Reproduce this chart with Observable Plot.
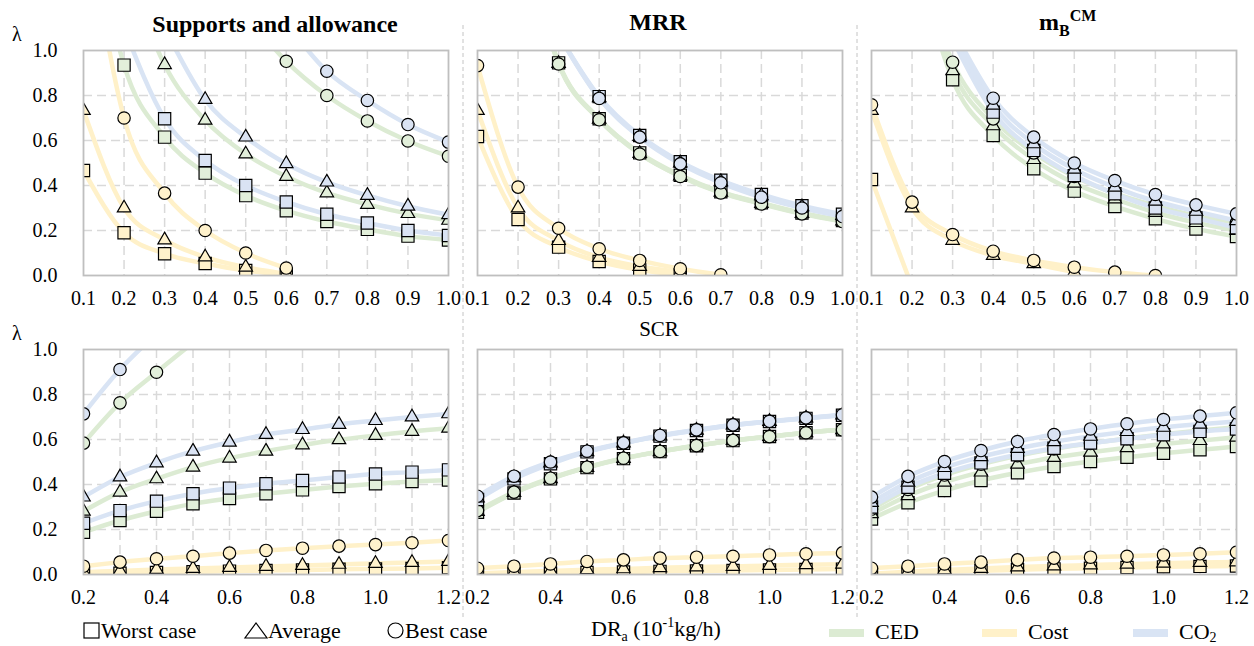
<!DOCTYPE html>
<html><head><meta charset="utf-8">
<script src="https://cdn.jsdelivr.net/npm/d3@7"></script>
<script src="https://cdn.jsdelivr.net/npm/@observablehq/plot@0.6"></script>
<style>
body{margin:0;background:#fff;}
#root{position:relative;width:1254px;height:646px;font-family:"Liberation Serif","DejaVu Serif",serif;color:#000;overflow:hidden;}
#root svg{position:absolute;}
</style></head><body><div id="root"></div>
<script>
// ---------- data ----------
const xTop = [0.1,0.2,0.3,0.4,0.5,0.6,0.7,0.8,0.9,1.0];
const xBottom = [0.2,0.3,0.4,0.5,0.6,0.7,0.8,0.9,1.0,1.1,1.2];
const xTopLabels = [0.1,0.2,0.3,0.4,0.5,0.6,0.7,0.8,0.9,1.0];
const xBottomLabels = [0.2,0.4,0.6,0.8,1.0,1.2];
const yTicks = [0,0.2,0.4,0.6,0.8,1.0];
const metrics = ["CED","Cost","CO2"];
const cases = ["Worst case","Average","Best case"];

// each array: [worst, average, best]; values outside [0,1] are off the frame
const supTop_CED = [
  [1.8,0.935,0.615,0.455,0.355,0.288,0.24,0.205,0.175,0.158],
  [null,1.4,0.937,0.69,0.54,0.44,0.367,0.316,0.275,0.245],
  [null,null,null,null,1.16,0.952,0.80,0.687,0.598,0.53]];
const supTop_Cost = [
  [0.467,0.19,0.097,0.053,0.022,0.003,null,null,null,null],
  [0.733,0.30,0.158,0.082,0.037,0.008,null,null,null,null],
  [1.7,0.70,0.366,0.20,0.10,0.033,null,null,null,null]];
const supTop_CO2 = [
  [null,1.1,0.697,0.511,0.40,0.327,0.272,0.233,0.20,0.178],
  [null,null,1.1,0.782,0.615,0.497,0.415,0.356,0.308,0.27],
  [null,null,null,null,null,1.12,0.908,0.778,0.671,0.593]];

const mrrTop_CED = [
  [null,1.6,0.945,0.697,0.545,0.445,0.372,0.323,0.278,0.244],
  [null,1.6,0.942,0.694,0.542,0.442,0.37,0.32,0.276,0.242],
  [null,1.6,0.94,0.692,0.54,0.44,0.367,0.318,0.274,0.24]];
const mrrTop_Cost = [
  [0.618,0.249,0.126,0.062,0.025,0.002,null,null,null,null],
  [0.733,0.30,0.155,0.08,0.04,0.015,null,null,null,null],
  [0.933,0.393,0.21,0.119,0.067,0.03,0.003,null,null,null]];
const mrrTop_CO2 = [
  [null,null,1.07,0.795,0.622,0.506,0.423,0.36,0.31,0.272],
  [null,null,1.07,0.79,0.618,0.50,0.417,0.354,0.305,0.267],
  [null,null,1.07,0.787,0.615,0.496,0.412,0.348,0.30,0.262]];

const mbTop_CED = [
  [null,1.5,0.87,0.622,0.474,0.375,0.307,0.252,0.207,0.173],
  [null,1.5,0.91,0.665,0.515,0.41,0.34,0.28,0.235,0.2],
  [null,1.5,0.948,0.696,0.545,0.44,0.365,0.31,0.265,0.235]];
const mbTop_Cost = [
  [0.427,-0.05,null,null,null,null,null,null,null,null],
  [0.733,0.30,0.156,0.089,0.052,0.015,null,null,null,null],
  [0.759,0.326,0.182,0.108,0.067,0.037,0.015,0.0,null,null]];
const mbTop_CO2 = [
  [null,null,1.05,0.726,0.556,0.444,0.363,0.30,0.256,0.212],
  [null,null,1.08,0.757,0.585,0.472,0.392,0.33,0.285,0.243],
  [null,null,1.1,0.788,0.615,0.50,0.422,0.36,0.314,0.274]];

const supBot_CED = [
  [0.188,0.24,0.281,0.314,0.338,0.359,0.376,0.391,0.403,0.413,0.42],
  [0.281,0.366,0.425,0.477,0.517,0.548,0.576,0.599,0.618,0.636,0.65],
  [0.584,0.763,0.899,1.03,null,null,null,null,null,null,null]];
const supBot_Cost = [
  [0.003,0.006,0.009,0.012,0.015,0.018,0.02,0.023,0.025,0.027,0.03],
  [0.01,0.016,0.022,0.027,0.031,0.036,0.04,0.045,0.049,0.053,0.058],
  [0.037,0.055,0.07,0.081,0.095,0.107,0.117,0.126,0.133,0.141,0.151]];
const supBot_CO2 = [
  [0.228,0.284,0.326,0.359,0.384,0.403,0.418,0.433,0.447,0.455,0.465],
  [0.344,0.433,0.496,0.548,0.588,0.622,0.644,0.667,0.684,0.70,0.714],
  [0.714,0.911,1.07,null,null,null,null,null,null,null,null]];

const mrrBot_CED = [
  [0.277,0.362,0.425,0.475,0.515,0.546,0.572,0.595,0.613,0.63,0.643],
  [0.28,0.364,0.426,0.476,0.516,0.546,0.572,0.595,0.613,0.63,0.643],
  [0.284,0.366,0.428,0.477,0.517,0.547,0.573,0.596,0.613,0.63,0.643]];
const mrrBot_Cost = [
  [0.0,0.003,0.006,0.009,0.011,0.014,0.016,0.018,0.02,0.022,0.024],
  [0.005,0.01,0.016,0.021,0.025,0.03,0.033,0.036,0.04,0.043,0.046],
  [0.028,0.037,0.047,0.058,0.065,0.073,0.077,0.081,0.087,0.092,0.096]];
const mrrBot_CO2 = [
  [0.333,0.425,0.492,0.545,0.583,0.615,0.64,0.663,0.68,0.694,0.708],
  [0.34,0.43,0.496,0.546,0.584,0.616,0.641,0.664,0.68,0.695,0.709],
  [0.348,0.437,0.50,0.548,0.585,0.618,0.643,0.665,0.681,0.696,0.71]];

const mbBot_CED = [
  [0.247,0.319,0.373,0.418,0.452,0.48,0.502,0.521,0.539,0.554,0.569],
  [0.27,0.35,0.41,0.455,0.49,0.52,0.543,0.563,0.58,0.595,0.61],
  [0.29,0.378,0.442,0.49,0.528,0.558,0.583,0.604,0.623,0.64,0.655]];
const mbBot_Cost = [
  [0.0,0.006,0.012,0.017,0.021,0.025,0.028,0.031,0.034,0.036,0.038],
  [0.003,0.012,0.02,0.027,0.033,0.038,0.042,0.046,0.05,0.053,0.056],
  [0.028,0.037,0.047,0.055,0.065,0.073,0.077,0.081,0.087,0.092,0.099]];
const mbBot_CO2 = [
  [0.30,0.388,0.45,0.496,0.532,0.561,0.584,0.603,0.621,0.636,0.647],
  [0.32,0.41,0.475,0.523,0.56,0.59,0.614,0.635,0.654,0.668,0.68],
  [0.344,0.436,0.502,0.551,0.591,0.622,0.647,0.67,0.689,0.704,0.719]];

// ---------- styles ----------
const lineColor = {CED:"#dcebd3", Cost:"#fff1c9", CO2:"#d9e4f4"};
const fillColor = {CED:"#e2efda", Cost:"#fff2cc", CO2:"#dae3f3"};
const symbolOf = ["square","triangle","circle"];
const rOf = [6.9, 5.0, 6.2];
const FONT = '"Liberation Serif","DejaVu Serif",serif';

const root = document.getElementById("root");

function rows(xs, arr){ return xs.map((x,i)=>({x, y:arr[i]})).filter(d=>d.y!=null); }

function panel({frameLeft, frameTop, xs, xDomain, xLabels, grid, data, yAxis}){
  const W = 365, H = 225;
  const ml = yAxis ? 83 : 12, mr = 12, mt = 12, mb = 40;
  const marks = [];
  const gridOpts = {stroke:"#d9d9d9", strokeOpacity:1, strokeWidth:1.5, strokeDasharray:"9,5"};
  marks.push(Plot.gridX(grid, gridOpts));
  marks.push(Plot.gridY([0.2,0.4,0.6,0.8], gridOpts));
  metrics.forEach((m, mi) => data[mi].forEach(arr => {
    marks.push(Plot.line(rows(xs, arr), {x:"x", y:"y", stroke:lineColor[m], strokeWidth:4.5, curve:"monotone-x", clip:true}));
  }));
  metrics.forEach((m, mi) => data[mi].forEach((arr, ci) => {
    marks.push(Plot.dot(rows(xs, arr), {x:"x", y:"y", symbol:symbolOf[ci], r:rOf[ci], fill:fillColor[m], stroke:"#000", strokeWidth:1.2, clip:true}));
  }));
  marks.push(Plot.frame({stroke:"#bfbfbf", strokeWidth:1.8}));
  marks.push(Plot.axisX(xLabels, {tickSize:0, tickPadding:15, tickFormat:d=>d.toFixed(1), label:null, fontFamily:FONT}));
  if (yAxis) marks.push(Plot.axisY(yTicks, {tickSize:0, tickPadding:26, tickFormat:d=>d.toFixed(1), label:null, fontFamily:FONT}));
  const svg = Plot.plot({
    width: ml+W+mr, height: mt+H+mb,
    marginLeft: ml, marginRight: mr, marginTop: mt, marginBottom: mb,
    x: {domain: xDomain},
    y: yAxis ? {domain:[0,1]} : {domain:[0,1], axis:null},
    style: {fontFamily: FONT, fontSize:"20px", color:"#000", background:"transparent", overflow:"visible"},
    marks
  });
  svg.style.left = (frameLeft - ml) + "px";
  svg.style.top = (frameTop - mt) + "px";
  root.appendChild(svg);
}

const gridTop = [0.2,0.3,0.4,0.5,0.6,0.7,0.8,0.9];
const gridBot = [0.3,0.4,0.5,0.6,0.7,0.8,0.9,1.0,1.1];
const lefts = [83, 477, 871];

panel({frameLeft:lefts[0], frameTop:50, xs:xTop, xDomain:[0.1,1.0], xLabels:xTopLabels, grid:gridTop, data:[supTop_CED, supTop_Cost, supTop_CO2], yAxis:true});
panel({frameLeft:lefts[1], frameTop:50, xs:xTop, xDomain:[0.1,1.0], xLabels:xTopLabels, grid:gridTop, data:[mrrTop_CED, mrrTop_Cost, mrrTop_CO2], yAxis:false});
panel({frameLeft:lefts[2], frameTop:50, xs:xTop, xDomain:[0.1,1.0], xLabels:xTopLabels, grid:gridTop, data:[mbTop_CED, mbTop_Cost, mbTop_CO2], yAxis:false});
panel({frameLeft:lefts[0], frameTop:349, xs:xBottom, xDomain:[0.2,1.2], xLabels:xBottomLabels, grid:gridBot, data:[supBot_CED, supBot_Cost, supBot_CO2], yAxis:true});
panel({frameLeft:lefts[1], frameTop:349, xs:xBottom, xDomain:[0.2,1.2], xLabels:xBottomLabels, grid:gridBot, data:[mrrBot_CED, mrrBot_Cost, mrrBot_CO2], yAxis:false});
panel({frameLeft:lefts[2], frameTop:349, xs:xBottom, xDomain:[0.2,1.2], xLabels:xBottomLabels, grid:gridBot, data:[mbBot_CED, mbBot_Cost, mbBot_CO2], yAxis:false});

// ---------- overlay: titles, separators, legend ----------
const ov = d3.create("svg").attr("width",1254).attr("height",646)
  .style("left","0px").style("top","0px").style("font-family",FONT);
[463, 857].forEach(x => ov.append("line").attr("x1",x).attr("x2",x).attr("y1",25).attr("y2",617)
  .attr("stroke","#c4c4c4").attr("stroke-width",1).attr("stroke-dasharray","4,3"));
ov.append("text").attr("x",275).attr("y",32).attr("text-anchor","middle").attr("font-size",24).attr("font-weight","bold").text("Supports and allowance");
ov.append("text").attr("x",658).attr("y",30).attr("text-anchor","middle").attr("font-size",24).attr("font-weight","bold").text("MRR");
const mbT = ov.append("text").attr("x",1039).attr("y",30).attr("font-size",24).attr("font-weight","bold");
mbT.append("tspan").text("m");
mbT.append("tspan").attr("font-size",16).attr("dy",6).text("B");
mbT.append("tspan").attr("font-size",16).attr("dy",-15).text("CM");
ov.append("text").attr("x",659).attr("y",336).attr("text-anchor","middle").attr("font-size",21).text("SCR");
ov.append("text").attr("x",12).attr("y",41).attr("font-size",20).text("λ");
ov.append("text").attr("x",12).attr("y",340).attr("font-size",20).text("λ");
// case legend
ov.append("rect").attr("x",84).attr("y",623).attr("width",15).attr("height",15).attr("fill","none").attr("stroke","#000").attr("stroke-width",1.2);
ov.append("text").attr("x",101).attr("y",638).attr("font-size",22).text(cases[0]);
ov.append("path").attr("d","M245,638L267,638L256,623Z").attr("fill","none").attr("stroke","#000").attr("stroke-width",1.2);
ov.append("text").attr("x",268).attr("y",638).attr("font-size",22).text(cases[1]);
ov.append("circle").attr("cx",395.5).attr("cy",630.5).attr("r",7.5).attr("fill","none").attr("stroke","#000").attr("stroke-width",1.2);
ov.append("text").attr("x",405).attr("y",638).attr("font-size",22).text(cases[2]);
// x title
const xt = ov.append("text").attr("x",591).attr("y",636).attr("font-size",22);
xt.append("tspan").text("DR");
xt.append("tspan").attr("font-size",14).attr("dy",5).text("a");
xt.append("tspan").attr("dy",-5).text(" (10");
xt.append("tspan").attr("font-size",14).attr("dy",-9).text("-1");
xt.append("tspan").attr("dy",9).text("kg/h)");
// metric legend
const legX = [[829,875],[982,1028],[1133,1179]];
metrics.forEach((m,i) => {
  ov.append("rect").attr("x",legX[i][0]).attr("y",629).attr("width",35).attr("height",8).attr("fill",lineColor[m]);
  const t = ov.append("text").attr("x",legX[i][1]).attr("y",639).attr("font-size",22);
  if (m === "CO2") { t.append("tspan").text("CO"); t.append("tspan").attr("font-size",14).attr("dy",3).text("2"); }
  else t.text(m);
});
root.insertBefore(ov.node(), root.firstChild);
</script></body></html>
